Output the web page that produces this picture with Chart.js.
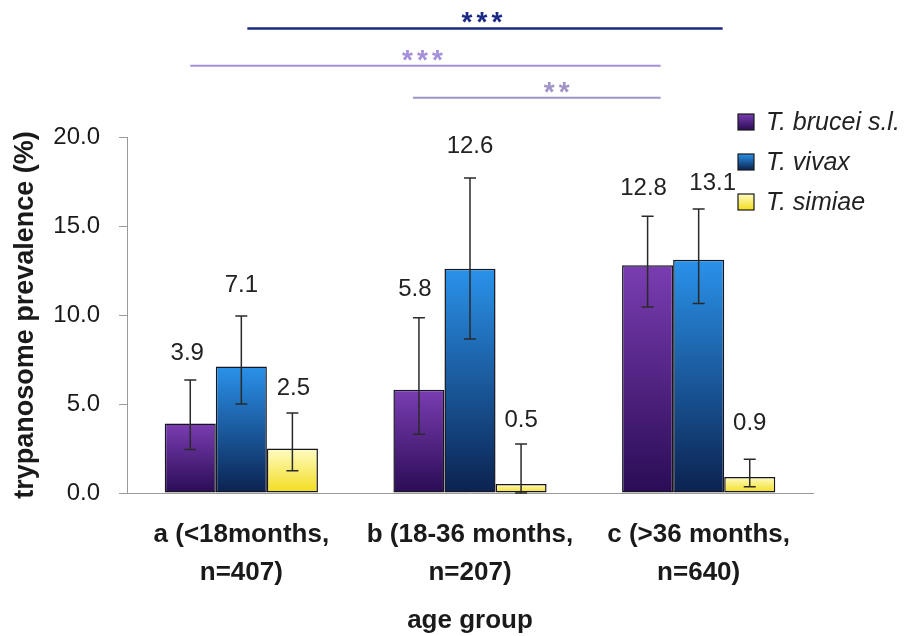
<!DOCTYPE html>
<html lang="en">
<head>
<meta charset="UTF-8">
<title>Trypanosome prevalence by age group</title>
<script src="https://cdn.jsdelivr.net/npm/chart.js"></script>
<style>
  body { margin: 0; background: #fff; }
  #wrap { width: 909px; height: 636px; }
</style>
</head>
<body>
<div id="wrap"><canvas id="prevChart" width="909" height="636"></canvas></div>
<script>
var ageGroups = [['a (<18months,', 'n=407)'], ['b (18-36 months,', 'n=207)'], ['c (>36 months,', 'n=640)']];
var species = ['T. brucei s.l.', 'T. vivax', 'T. simiae'];
var brucei = [3.9, 5.8, 12.8];
var vivax = [7.1, 12.6, 13.1];
var simiae = [2.5, 0.5, 0.9];
// error bar limits
var bruceiLow = [2.45, 3.3, 10.45];
var bruceiHigh = [6.35, 9.85, 15.55];
var vivaxLow = [5.0, 8.65, 10.65];
var vivaxHigh = [9.95, 17.7, 15.95];
var simiaeLow = [1.25, 0.0, 0.35];
var simiaeHigh = [4.5, 2.75, 1.9];
var yTicks = [0, 5, 10, 15, 20];

// vertical gradient over each bar
function barGradient(top, bottom) {
    return function (c) {
        var chart = c.chart;
        if (!chart.chartArea || !c.parsed) return bottom;
        var ys = chart.scales.y;
        var y0 = ys.getPixelForValue(c.parsed.y), y1 = ys.getPixelForValue(0);
        if (y1 - y0 < 2) return bottom;
        var g = chart.ctx.createLinearGradient(0, y0, 0, y1);
        g.addColorStop(0, top);
        g.addColorStop(1, bottom);
        return g;
    };
}

var extras = {
    id: 'extras',
    afterDatasetsDraw: function (chart, args, opts) {
        var ctx = chart.ctx, ys = chart.scales.y;
        ctx.save();
        chart.data.datasets.forEach(function (ds, di) {
            var meta = chart.getDatasetMeta(di);
            meta.data.forEach(function (bar, i) {
                var top = ys.getPixelForValue(ds.errHigh[i]);
                var bot = ys.getPixelForValue(ds.errLow[i]);
                ctx.strokeStyle = '#2a2a2a';
                ctx.lineWidth = 1.5;
                ctx.beginPath();
                ctx.moveTo(bar.x, top); ctx.lineTo(bar.x, bot);
                ctx.moveTo(bar.x - 6, top); ctx.lineTo(bar.x + 6, top);
                ctx.moveTo(bar.x - 6, bot); ctx.lineTo(bar.x + 6, bot);
                ctx.stroke();
                // value label
                ctx.fillStyle = '#222';
                ctx.font = '24px "Liberation Sans", Arial, sans-serif';
                ctx.textAlign = 'center';
                ctx.textBaseline = 'middle';
                ctx.fillText(ds.data[i].toFixed(1), bar.x + opts.labelShift[di][i], top - opts.labelLift[di][i]);
            });
        });

        // significance brackets
        opts.comparisons.forEach(function (cmp) {
            var meta = chart.getDatasetMeta(cmp.ds);
            var x1 = meta.data[cmp.from].x + cmp.ext[0];
            var x2 = meta.data[cmp.to].x + cmp.ext[1];
            var yy = ys.getPixelForValue(cmp.level);
            ctx.strokeStyle = cmp.color;
            ctx.lineWidth = cmp.width;
            ctx.beginPath();
            ctx.moveTo(x1, yy); ctx.lineTo(x2, yy);
            ctx.stroke();
            ctx.fillStyle = cmp.color;
            ctx.font = 'bold 28px "Liberation Sans", Arial, sans-serif';
            ctx.textAlign = 'center';
            ctx.textBaseline = 'alphabetic';
            var n = cmp.stars.length, cx = (x1 + x2) / 2 + cmp.starShift;
            for (var k = 0; k < n; k++) {
                ctx.fillText('*', cx + (k - (n - 1) / 2) * 15, yy + 3);
            }
        });

        // legend
        var lg = opts.legend;
        chart.data.datasets.forEach(function (ds, di) {
            var cy = lg.y + di * lg.step;
            var g = ctx.createLinearGradient(0, cy - 8, 0, cy + 8);
            g.addColorStop(0, ds.topColor);
            g.addColorStop(1, ds.bottomColor);
            ctx.fillStyle = g;
            ctx.fillRect(lg.x, cy - 8, 16, 16);
            ctx.strokeStyle = '#1a1a1a';
            ctx.lineWidth = 1.2;
            ctx.strokeRect(lg.x, cy - 8, 16, 16);
            ctx.fillStyle = '#222';
            ctx.font = 'italic 25px "Liberation Sans", Arial, sans-serif';
            ctx.textAlign = 'left';
            ctx.textBaseline = 'middle';
            ctx.fillText(ds.label, lg.x + 28, cy + 1);
        });
        ctx.restore();
    }
};

function makeSet(label, values, low, high, top, bottom) {
    return {
        label: label,
        data: values,
        errLow: low,
        errHigh: high,
        topColor: top,
        bottomColor: bottom,
        backgroundColor: barGradient(top, bottom),
        borderColor: '#161620',
        borderWidth: 1.5,
        borderSkipped: false,
        categoryPercentage: 0.67,
        barPercentage: 1.0
    };
}

var fontFamily = '"Liberation Sans", Arial, sans-serif';
var ctx = document.getElementById('prevChart').getContext('2d');
var prevChart = new Chart(ctx, {
    type: 'bar',
    data: {
        labels: ageGroups,
        datasets: [
            makeSet(species[0], brucei, bruceiLow, bruceiHigh, '#7a3db2', '#2a0c55'),
            makeSet(species[1], vivax, vivaxLow, vivaxHigh, '#2a92ea', '#0b2250'),
            makeSet(species[2], simiae, simiaeLow, simiaeHigh, '#fffcc4', '#f2dc1c')
        ]
    },
    options: {
        responsive: false,
        animation: false,
        layout: { padding: { top: 137, right: 96, left: 0, bottom: 0 } },
        scales: {
            x: {
                grid: { display: false, drawTicks: false },
                border: { display: true, color: '#9a9a9a', width: 1 },
                ticks: {
                    color: '#1a1a1a',
                    padding: 23,
                    maxRotation: 0,
                    font: { family: fontFamily, size: 26, weight: 'bold', lineHeight: 1.46 }
                },
                title: {
                    display: true,
                    text: 'age group',
                    color: '#1a1a1a',
                    padding: { top: 0, bottom: 0 },
                    font: { family: fontFamily, size: 26, weight: 'bold' }
                },
                afterFit: function (s) { s.height = 143; }
            },
            y: {
                min: 0,
                max: 20,
                afterBuildTicks: function (s) { s.ticks = yTicks.map(function (v) { return { value: v }; }); },
                grid: { drawOnChartArea: false, drawTicks: true, tickLength: 8, color: '#9a9a9a' },
                border: { display: true, color: '#9a9a9a', width: 1 },
                ticks: {
                    color: '#1a1a1a',
                    padding: 19,
                    font: { family: fontFamily, size: 24 },
                    callback: function (v) { return Number(v).toFixed(1); }
                },
                title: {
                    display: true,
                    text: 'trypanosome prevalence (%)',
                    color: '#1a1a1a',
                    padding: { top: 9, bottom: 0 },
                    font: { family: fontFamily, size: 27, weight: 'bold' }
                },
                afterFit: function (s) { s.width = 127; }
            }
        },
        plugins: {
            legend: { display: false },
            tooltip: { enabled: false },
            extras: {
                // per dataset (brucei, vivax, simiae), per age group
                labelLift: [[27, 28, 28], [31, 32, 26], [25, 24, 36]],
                labelShift: [[-3, -4, -4], [0, 0, 14], [1, 0, 0]],
                comparisons: [
                    { ds: 1, from: 0, to: 2, level: 26.1, ext: [6, 24], stars: '***', starShift: -3, color: '#1c2a86', width: 2.5 },
                    { ds: 0, from: 0, to: 2, level: 24.0, ext: [0, 13], stars: '***', starShift: -3, color: '#a48fda', width: 2 },
                    { ds: 0, from: 1, to: 2, level: 22.2, ext: [-6, 13], stars: '**', starShift: 20, color: '#a093c8', width: 2 }
                ],
                legend: { x: 738, y: 122, step: 40 }
            }
        }
    },
    plugins: [extras]
});
</script>
</body>
</html>
